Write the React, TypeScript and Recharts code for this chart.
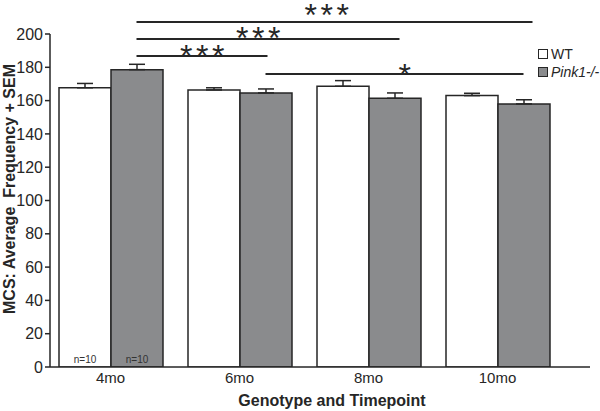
import React from "react"
import {
    BarChart,
    Bar,
    XAxis,
    YAxis,
    ErrorBar,
    LabelList,
    Legend,
    ReferenceLine,
} from "recharts"

const timepoints = ["4mo", "6mo", "8mo", "10mo"]
const wtMean = [167.7, 166.4, 168.6, 163]
const wtSem = [2.6, 1.3, 3.4, 1.4]
const pinkMean = [178.6, 164.6, 161.4, 158]
const pinkSem = [3.2, 2.4, 3.2, 2.5]
const wtN = ["n=10", "", "", ""]
const pinkN = ["n=10", "", "", ""]
const yTicks = [0, 20, 40, 60, 80, 100, 120, 140, 160, 180, 200]

// significance brackets between Pink1-/- groups
const sigFrom = ["4mo", "4mo", "4mo", "6mo"]
const sigTo = ["10mo", "8mo", "6mo", "10mo"]
const sigLineY = [207.2, 197, 186.8, 176]
const sigText = ["***", "***", "***", "*"]

const series = [
    { key: "wt", name: "WT", fill: "#ffffff", italic: false },
    { key: "pink", name: "Pink1-/-", fill: "#8a8b8d", italic: true },
]

const data = timepoints.map((t, i) => ({
    t,
    wt: wtMean[i],
    wtErr: [0, wtSem[i]],
    wtN: wtN[i],
    pink: pinkMean[i],
    pinkErr: [0, pinkSem[i]],
    pinkN: pinkN[i],
}))

const font = '"Liberation Sans", Arial, sans-serif'
const ink = "#262626"
const BAR = 52
// how far the stars sit above each bracket (px), and small end tweaks
const starLift = [15, 8, 7.5, 6.5]
const starShift = [-8, -10, 0, 10]
const endExtra = [9, 5, 2, 0]

function LegendBox() {
    return (
        <div style={{ fontFamily: font, fontSize: 14, color: ink, lineHeight: "18px" }}>
            {series.map((s) => (
                <div key={s.key} style={{ display: "flex", alignItems: "center", whiteSpace: "nowrap" }}>
                    <span
                        style={{
                            display: "inline-block",
                            width: 8,
                            height: 8,
                            background: s.fill,
                            border: `1px solid ${ink}`,
                            marginRight: 3,
                        }}
                    />
                    <span style={{ fontStyle: s.italic ? "italic" : "normal" }}>{s.name}</span>
                </div>
            ))}
        </div>
    )
}

export default function App() {
    return (
        <div style={{ position: "absolute", left: 0, top: 0, width: 600, height: 411, background: "#fff" }}>
            <BarChart
                width={600}
                height={411}
                data={data}
                margin={{ top: 34, right: 10, bottom: 14, left: 0 }}
                barGap={0}
                barSize={BAR}
            >
                <XAxis
                    dataKey="t"
                    padding={{ left: -4, right: 28 }}
                    height={30}
                    tickLine={false}
                    tickSize={0}
                    tickMargin={5}
                    axisLine={{ stroke: ink, strokeWidth: 1.5 }}
                    tick={{ fill: ink, fontSize: 15, fontFamily: font }}
                    label={{
                        content: ({ viewBox }: any) => (
                            <text
                                x={viewBox.x + viewBox.width / 2 + 12}
                                y={406}
                                textAnchor="middle"
                                fontFamily={font}
                                fontSize={16}
                                fontWeight="bold"
                                fill={ink}
                            >
                                Genotype and Timepoint
                            </text>
                        ),
                    }}
                />
                <YAxis
                    width={50}
                    domain={[0, 200]}
                    allowDataOverflow
                    ticks={yTicks}
                    interval={0}
                    tickSize={5}
                    tickMargin={2}
                    axisLine={{ stroke: ink, strokeWidth: 1.5 }}
                    tickLine={{ stroke: ink, strokeWidth: 1.5 }}
                    tick={{ fill: ink, fontSize: 16, fontFamily: font }}
                    label={{
                        content: () => (
                            <text
                                x={15}
                                y={189}
                                transform="rotate(-90 15 189)"
                                textAnchor="middle"
                                fontFamily={font}
                                fontSize={16}
                                fontWeight="bold"
                                fill={ink}
                            >
                                MCS: Average{"\u00a0\u00a0"}Frequency + SEM
                            </text>
                        ),
                    }}
                />
                <Legend
                    layout="vertical"
                    verticalAlign="middle"
                    align="center"
                    wrapperStyle={{ left: 538, top: 45, width: 70 }}
                    content={() => <LegendBox />}
                />
                {series.map((s) => (
                    <Bar
                        key={s.key}
                        dataKey={s.key}
                        name={s.name}
                        fill={s.fill}
                        stroke={ink}
                        strokeWidth={1.5}
                        isAnimationActive={false}
                    >
                        <ErrorBar dataKey={`${s.key}Err`} width={8} stroke={ink} strokeWidth={1.5} direction="y" />
                        <LabelList
                            dataKey={`${s.key}N`}
                            position="insideBottom"
                            offset={4}
                            fill="#333"
                            fontSize={10}
                            fontFamily={font}
                        />
                    </Bar>
                ))}
                {sigFrom.map((from, i) => (
                    <ReferenceLine
                        key={`sig${i}`}
                        ifOverflow="visible"
                        segment={[
                            { x: from, y: sigLineY[i] },
                            { x: sigTo[i], y: sigLineY[i] },
                        ]}
                        shape={(p: any) => {
                            // brackets run between the Pink1-/- bars, right half of each group
                            const xa = p.x1 + BAR / 2
                            const xb = p.x2 + BAR / 2 + endExtra[i]
                            const y = p.y1
                            return (
                                <g>
                                    <line x1={xa} y1={y} x2={xb} y2={y} stroke={ink} strokeWidth={2} />
                                    <text
                                        x={(xa + xb) / 2 + starShift[i] + 2}
                                        y={y - starLift[i] + 18.5}
                                        textAnchor="middle"
                                        fontFamily={font}
                                        fontSize={32}
                                        letterSpacing={3.6}
                                        fill={ink}
                                    >
                                        {sigText[i]}
                                    </text>
                                </g>
                            )
                        }}
                    />
                ))}
            </BarChart>
        </div>
    )
}
